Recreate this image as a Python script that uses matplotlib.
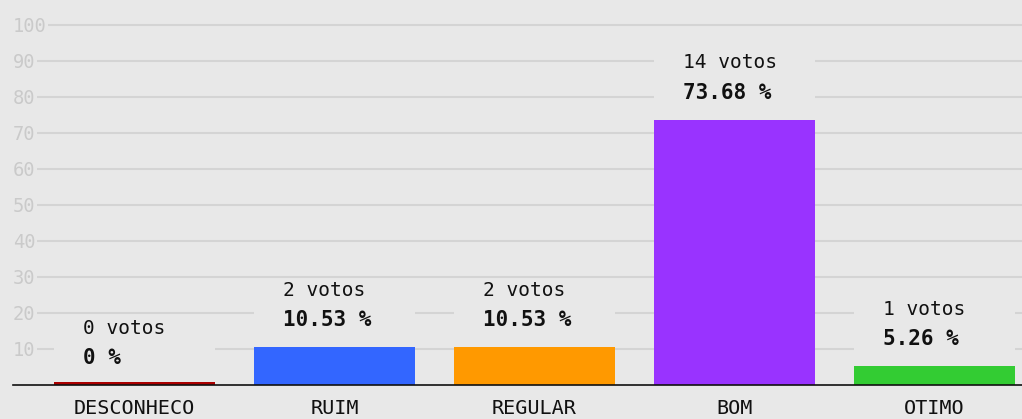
import matplotlib.pyplot as plt

categories = ["DESCONHECO", "RUIM", "REGULAR", "BOM", "OTIMO"]
votes = [0, 2, 2, 14, 1]
percents = [0, 10.53, 10.53, 73.68, 5.26]
pct_labels = ["0 %", "10.53 %", "10.53 %", "73.68 %", "5.26 %"]
colors = ["#aa0000", "#3366ff", "#ff9900", "#9933ff", "#33cc33"]
y_ticks = [10, 20, 30, 40, 50, 60, 70, 80, 90, 100]

BG = "#e8e8e8"
MONO = "DejaVu Sans Mono"

fig = plt.figure(figsize=(10.22, 4.19), dpi=100, facecolor=BG)
ax = fig.add_axes([13 / 1022, 34 / 419, 1 - 13 / 1022, 1 - 34 / 419])
ax.set_facecolor(BG)

x = list(range(len(categories)))
width = 161 / 200

# zero values still get a thin visible strip, like the original
shown = [max(p, 0.8) for p in percents]
ax.bar(x, shown, width=width, color=colors, zorder=3)

# blank area above each bar where the labels sit (hides the grid)
ax.bar(x, [19] * len(x), bottom=percents, width=width, color=BG, zorder=2)

for i, (v, p, lbl) in enumerate(zip(votes, percents, pct_labels)):
    ax.annotate(f"{v} votos", (i, p), xytext=(-37, 41), textcoords="offset points",
                ha="left", va="center", fontsize=14, family=MONO, color="#111111", zorder=4)
    ax.annotate(lbl, (i, p), xytext=(-37, 19.5), textcoords="offset points",
                ha="left", va="center", fontsize=15, family=MONO, weight="bold",
                color="#111111", zorder=4)

ax.set_xlim(-0.6075, 4.4375)
ax.set_ylim(0, 106.9)

ax.set_xticks(x)
ax.set_xticklabels(categories, family=MONO, fontsize=14.5, color="#111111")
ax.tick_params(axis="x", length=0, pad=10)

ax.set_yticks(y_ticks)
ax.set_yticklabels([str(t) for t in y_ticks], family=MONO, fontsize=13.5, color="#cacaca")
ax.tick_params(axis="y", length=0, pad=0)
for t in ax.get_yticklabels():
    t.set_horizontalalignment("left")
    t.set_bbox(dict(facecolor=BG, edgecolor="none", pad=1))

ax.grid(axis="y", color="#d4d4d4", linewidth=1.5)
ax.set_axisbelow(True)

for s in ["left", "right", "top"]:
    ax.spines[s].set_visible(False)
ax.spines["bottom"].set_color("#111111")
ax.spines["bottom"].set_linewidth(1.2)
ax.spines["bottom"].set_zorder(5)

fig.savefig("out.png", dpi=100, facecolor=BG)
